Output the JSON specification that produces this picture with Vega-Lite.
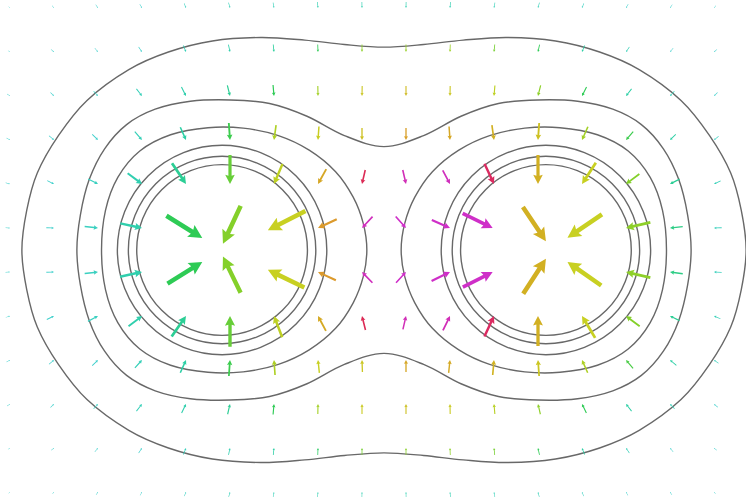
{
  "$schema": "https://vega.github.io/schema/vega-lite/v6.json",
  "width": 746,
  "height": 497,
  "autosize": {"type": "none"},
  "padding": 0,
  "background": "white",
  "config": {"view": {"stroke": null}},
  "datasets": {
    "rings": [
      {"x": -3.68, "y": 0, "d": 3.88},
      {"x": -3.68, "y": 0, "d": 4.26},
      {"x": -3.68, "y": 0, "d": 4.76},
      {"x": 3.68, "y": 0, "d": 3.88},
      {"x": 3.68, "y": 0, "d": 4.26},
      {"x": 3.68, "y": 0, "d": 4.76}
    ],
    "contours": [
      {"level": "outer", "k": 0, "x": -8.23, "y": 0},
      {"level": "outer", "k": 1, "x": -8.12, "y": 0.9},
      {"level": "outer", "k": 2, "x": -7.88, "y": 1.75},
      {"level": "outer", "k": 3, "x": -7.4, "y": 2.6},
      {"level": "outer", "k": 4, "x": -6.75, "y": 3.4},
      {"level": "outer", "k": 5, "x": -5.8, "y": 4.1},
      {"level": "outer", "k": 6, "x": -4.9, "y": 4.5},
      {"level": "outer", "k": 7, "x": -3.9, "y": 4.75},
      {"level": "outer", "k": 8, "x": -2.8, "y": 4.83},
      {"level": "outer", "k": 9, "x": -1.8, "y": 4.77},
      {"level": "outer", "k": 10, "x": -0.9, "y": 4.67},
      {"level": "outer", "k": 11, "x": 0, "y": 4.61},
      {"level": "outer", "k": 12, "x": 0.9, "y": 4.67},
      {"level": "outer", "k": 13, "x": 1.8, "y": 4.77},
      {"level": "outer", "k": 14, "x": 2.8, "y": 4.83},
      {"level": "outer", "k": 15, "x": 3.9, "y": 4.75},
      {"level": "outer", "k": 16, "x": 4.9, "y": 4.5},
      {"level": "outer", "k": 17, "x": 5.8, "y": 4.1},
      {"level": "outer", "k": 18, "x": 6.75, "y": 3.4},
      {"level": "outer", "k": 19, "x": 7.4, "y": 2.6},
      {"level": "outer", "k": 20, "x": 7.88, "y": 1.75},
      {"level": "outer", "k": 21, "x": 8.12, "y": 0.9},
      {"level": "outer", "k": 22, "x": 8.23, "y": 0},
      {"level": "outer", "k": 23, "x": 8.12, "y": -0.9},
      {"level": "outer", "k": 24, "x": 7.88, "y": -1.75},
      {"level": "outer", "k": 25, "x": 7.4, "y": -2.6},
      {"level": "outer", "k": 26, "x": 6.75, "y": -3.4},
      {"level": "outer", "k": 27, "x": 5.8, "y": -4.1},
      {"level": "outer", "k": 28, "x": 4.9, "y": -4.5},
      {"level": "outer", "k": 29, "x": 3.9, "y": -4.75},
      {"level": "outer", "k": 30, "x": 2.8, "y": -4.83},
      {"level": "outer", "k": 31, "x": 1.8, "y": -4.77},
      {"level": "outer", "k": 32, "x": 0.9, "y": -4.67},
      {"level": "outer", "k": 33, "x": 0, "y": -4.61},
      {"level": "outer", "k": 34, "x": -0.9, "y": -4.67},
      {"level": "outer", "k": 35, "x": -1.8, "y": -4.77},
      {"level": "outer", "k": 36, "x": -2.8, "y": -4.83},
      {"level": "outer", "k": 37, "x": -3.9, "y": -4.75},
      {"level": "outer", "k": 38, "x": -4.9, "y": -4.5},
      {"level": "outer", "k": 39, "x": -5.8, "y": -4.1},
      {"level": "outer", "k": 40, "x": -6.75, "y": -3.4},
      {"level": "outer", "k": 41, "x": -7.4, "y": -2.6},
      {"level": "outer", "k": 42, "x": -7.88, "y": -1.75},
      {"level": "outer", "k": 43, "x": -8.12, "y": -0.9},

      {"level": "peanut", "k": 0, "x": -6.98, "y": 0},
      {"level": "peanut", "k": 1, "x": -6.9, "y": 0.8},
      {"level": "peanut", "k": 2, "x": -6.7, "y": 1.6},
      {"level": "peanut", "k": 3, "x": -6.35, "y": 2.3},
      {"level": "peanut", "k": 4, "x": -5.85, "y": 2.85},
      {"level": "peanut", "k": 5, "x": -5.2, "y": 3.2},
      {"level": "peanut", "k": 6, "x": -4.4, "y": 3.38},
      {"level": "peanut", "k": 7, "x": -3.5, "y": 3.41},
      {"level": "peanut", "k": 8, "x": -2.6, "y": 3.33},
      {"level": "peanut", "k": 9, "x": -1.75, "y": 3.04},
      {"level": "peanut", "k": 10, "x": -0.9, "y": 2.6},
      {"level": "peanut", "k": 11, "x": 0, "y": 2.35},
      {"level": "peanut", "k": 12, "x": 0.9, "y": 2.6},
      {"level": "peanut", "k": 13, "x": 1.75, "y": 3.04},
      {"level": "peanut", "k": 14, "x": 2.6, "y": 3.33},
      {"level": "peanut", "k": 15, "x": 3.5, "y": 3.41},
      {"level": "peanut", "k": 16, "x": 4.4, "y": 3.38},
      {"level": "peanut", "k": 17, "x": 5.2, "y": 3.2},
      {"level": "peanut", "k": 18, "x": 5.85, "y": 2.85},
      {"level": "peanut", "k": 19, "x": 6.35, "y": 2.3},
      {"level": "peanut", "k": 20, "x": 6.7, "y": 1.6},
      {"level": "peanut", "k": 21, "x": 6.9, "y": 0.8},
      {"level": "peanut", "k": 22, "x": 6.98, "y": 0},
      {"level": "peanut", "k": 23, "x": 6.9, "y": -0.8},
      {"level": "peanut", "k": 24, "x": 6.7, "y": -1.6},
      {"level": "peanut", "k": 25, "x": 6.35, "y": -2.3},
      {"level": "peanut", "k": 26, "x": 5.85, "y": -2.85},
      {"level": "peanut", "k": 27, "x": 5.2, "y": -3.2},
      {"level": "peanut", "k": 28, "x": 4.4, "y": -3.38},
      {"level": "peanut", "k": 29, "x": 3.5, "y": -3.41},
      {"level": "peanut", "k": 30, "x": 2.6, "y": -3.33},
      {"level": "peanut", "k": 31, "x": 1.75, "y": -3.04},
      {"level": "peanut", "k": 32, "x": 0.9, "y": -2.6},
      {"level": "peanut", "k": 33, "x": 0, "y": -2.35},
      {"level": "peanut", "k": 34, "x": -0.9, "y": -2.6},
      {"level": "peanut", "k": 35, "x": -1.75, "y": -3.04},
      {"level": "peanut", "k": 36, "x": -2.6, "y": -3.33},
      {"level": "peanut", "k": 37, "x": -3.5, "y": -3.41},
      {"level": "peanut", "k": 38, "x": -4.4, "y": -3.38},
      {"level": "peanut", "k": 39, "x": -5.2, "y": -3.2},
      {"level": "peanut", "k": 40, "x": -5.85, "y": -2.85},
      {"level": "peanut", "k": 41, "x": -6.35, "y": -2.3},
      {"level": "peanut", "k": 42, "x": -6.7, "y": -1.6},
      {"level": "peanut", "k": 43, "x": -6.9, "y": -0.8},

      {"level": "lobeL", "k": 0, "x": -6.42, "y": 0},
      {"level": "lobeL", "k": 1, "x": -6.33, "y": 0.9},
      {"level": "lobeL", "k": 2, "x": -6.05, "y": 1.65},
      {"level": "lobeL", "k": 3, "x": -5.55, "y": 2.25},
      {"level": "lobeL", "k": 4, "x": -4.85, "y": 2.62},
      {"level": "lobeL", "k": 5, "x": -4.0, "y": 2.78},
      {"level": "lobeL", "k": 6, "x": -3.2, "y": 2.77},
      {"level": "lobeL", "k": 7, "x": -2.4, "y": 2.6},
      {"level": "lobeL", "k": 8, "x": -1.7, "y": 2.27},
      {"level": "lobeL", "k": 9, "x": -1.1, "y": 1.78},
      {"level": "lobeL", "k": 10, "x": -0.7, "y": 1.2},
      {"level": "lobeL", "k": 11, "x": -0.47, "y": 0.6},
      {"level": "lobeL", "k": 12, "x": -0.39, "y": 0},
      {"level": "lobeL", "k": 13, "x": -0.47, "y": -0.6},
      {"level": "lobeL", "k": 14, "x": -0.7, "y": -1.2},
      {"level": "lobeL", "k": 15, "x": -1.1, "y": -1.78},
      {"level": "lobeL", "k": 16, "x": -1.7, "y": -2.27},
      {"level": "lobeL", "k": 17, "x": -2.4, "y": -2.6},
      {"level": "lobeL", "k": 18, "x": -3.2, "y": -2.77},
      {"level": "lobeL", "k": 19, "x": -4.0, "y": -2.78},
      {"level": "lobeL", "k": 20, "x": -4.85, "y": -2.62},
      {"level": "lobeL", "k": 21, "x": -5.55, "y": -2.25},
      {"level": "lobeL", "k": 22, "x": -6.05, "y": -1.65},
      {"level": "lobeL", "k": 23, "x": -6.33, "y": -0.9},

      {"level": "lobeR", "k": 0, "x": 6.42, "y": 0},
      {"level": "lobeR", "k": 1, "x": 6.33, "y": 0.9},
      {"level": "lobeR", "k": 2, "x": 6.05, "y": 1.65},
      {"level": "lobeR", "k": 3, "x": 5.55, "y": 2.25},
      {"level": "lobeR", "k": 4, "x": 4.85, "y": 2.62},
      {"level": "lobeR", "k": 5, "x": 4.0, "y": 2.78},
      {"level": "lobeR", "k": 6, "x": 3.2, "y": 2.77},
      {"level": "lobeR", "k": 7, "x": 2.4, "y": 2.6},
      {"level": "lobeR", "k": 8, "x": 1.7, "y": 2.27},
      {"level": "lobeR", "k": 9, "x": 1.1, "y": 1.78},
      {"level": "lobeR", "k": 10, "x": 0.7, "y": 1.2},
      {"level": "lobeR", "k": 11, "x": 0.47, "y": 0.6},
      {"level": "lobeR", "k": 12, "x": 0.39, "y": 0},
      {"level": "lobeR", "k": 13, "x": 0.47, "y": -0.6},
      {"level": "lobeR", "k": 14, "x": 0.7, "y": -1.2},
      {"level": "lobeR", "k": 15, "x": 1.1, "y": -1.78},
      {"level": "lobeR", "k": 16, "x": 1.7, "y": -2.27},
      {"level": "lobeR", "k": 17, "x": 2.4, "y": -2.6},
      {"level": "lobeR", "k": 18, "x": 3.2, "y": -2.77},
      {"level": "lobeR", "k": 19, "x": 4.0, "y": -2.78},
      {"level": "lobeR", "k": 20, "x": 4.85, "y": -2.62},
      {"level": "lobeR", "k": 21, "x": 5.55, "y": -2.25},
      {"level": "lobeR", "k": 22, "x": 6.05, "y": -1.65},
      {"level": "lobeR", "k": 23, "x": 6.33, "y": -0.9}
    ],
    "arrows": [
      {"x": -8.5, "y": 5.5, "b": 135, "m": 0.057, "c": 1},
      {"x": -7.5, "y": 5.5, "b": 140, "m": 0.068, "c": 1},
      {"x": -6.5, "y": 5.5, "b": 145, "m": 0.091, "c": 1},
      {"x": -5.5, "y": 5.5, "b": 150, "m": 0.102, "c": 1},
      {"x": -4.5, "y": 5.5, "b": 158, "m": 0.114, "c": 0.97},
      {"x": -3.5, "y": 5.5, "b": 165, "m": 0.125, "c": 0.95},
      {"x": -2.5, "y": 5.5, "b": 170, "m": 0.125, "c": 0.95},
      {"x": -1.5, "y": 5.5, "b": 175, "m": 0.136, "c": 0.93},
      {"x": -0.5, "y": 5.5, "b": 179, "m": 0.136, "c": 0.93},
      {"x": 0.5, "y": 5.5, "b": 181, "m": 0.136, "c": 0.93},
      {"x": 1.5, "y": 5.5, "b": 185, "m": 0.136, "c": 0.93},
      {"x": 2.5, "y": 5.5, "b": 190, "m": 0.125, "c": 0.95},
      {"x": 3.5, "y": 5.5, "b": 195, "m": 0.125, "c": 0.95},
      {"x": 4.5, "y": 5.5, "b": 202, "m": 0.114, "c": 0.97},
      {"x": 5.5, "y": 5.5, "b": 210, "m": 0.102, "c": 1},
      {"x": 6.5, "y": 5.5, "b": 215, "m": 0.091, "c": 1},
      {"x": 7.5, "y": 5.5, "b": 220, "m": 0.068, "c": 1},

      {"x": -8.5, "y": 4.5, "b": 125, "m": 0.057, "c": 1},
      {"x": -7.5, "y": 4.5, "b": 130, "m": 0.091, "c": 1},
      {"x": -6.5, "y": 4.5, "b": 140, "m": 0.114, "c": 1},
      {"x": -5.5, "y": 4.5, "b": 146, "m": 0.136, "c": 1},
      {"x": -4.5, "y": 4.5, "b": 158, "m": 0.159, "c": 0.95},
      {"x": -3.5, "y": 4.5, "b": 168, "m": 0.17, "c": 0.92},
      {"x": -2.5, "y": 4.5, "b": 174, "m": 0.17, "c": 0.89},
      {"x": -1.5, "y": 4.5, "b": 178, "m": 0.17, "c": 0.8},
      {"x": -0.5, "y": 4.5, "b": 180, "m": 0.17, "c": 0.66},
      {"x": 0.5, "y": 4.5, "b": 180, "m": 0.17, "c": 0.64},
      {"x": 1.5, "y": 4.5, "b": 182, "m": 0.17, "c": 0.63},
      {"x": 2.5, "y": 4.5, "b": 186, "m": 0.17, "c": 0.7},
      {"x": 3.5, "y": 4.5, "b": 192, "m": 0.17, "c": 0.8},
      {"x": 4.5, "y": 4.5, "b": 202, "m": 0.159, "c": 0.9},
      {"x": 5.5, "y": 4.5, "b": 214, "m": 0.136, "c": 0.95},
      {"x": 6.5, "y": 4.5, "b": 220, "m": 0.114, "c": 1},
      {"x": 7.5, "y": 4.5, "b": 230, "m": 0.091, "c": 1},

      {"x": -8.5, "y": 3.5, "b": 125, "m": 0.08, "c": 1},
      {"x": -7.5, "y": 3.5, "b": 135, "m": 0.114, "c": 1},
      {"x": -6.5, "y": 3.5, "b": 138, "m": 0.148, "c": 0.98},
      {"x": -5.5, "y": 3.5, "b": 142, "m": 0.205, "c": 0.95},
      {"x": -4.5, "y": 3.5, "b": 153, "m": 0.227, "c": 0.92},
      {"x": -3.5, "y": 3.5, "b": 166, "m": 0.25, "c": 0.88},
      {"x": -2.5, "y": 3.5, "b": 175, "m": 0.25, "c": 0.8},
      {"x": -1.5, "y": 3.5, "b": 179, "m": 0.227, "c": 0.62},
      {"x": -0.5, "y": 3.5, "b": 181, "m": 0.227, "c": 0.52},
      {"x": 0.5, "y": 3.5, "b": 180, "m": 0.227, "c": 0.48},
      {"x": 1.5, "y": 3.5, "b": 181, "m": 0.227, "c": 0.52},
      {"x": 2.5, "y": 3.5, "b": 185, "m": 0.239, "c": 0.57},
      {"x": 3.5, "y": 3.5, "b": 194, "m": 0.25, "c": 0.66},
      {"x": 4.5, "y": 3.5, "b": 207, "m": 0.227, "c": 0.8},
      {"x": 5.5, "y": 3.5, "b": 218, "m": 0.205, "c": 0.9},
      {"x": 6.5, "y": 3.5, "b": 222, "m": 0.148, "c": 0.95},
      {"x": 7.5, "y": 3.5, "b": 225, "m": 0.114, "c": 1},

      {"x": -8.5, "y": 2.5, "b": 120, "m": 0.091, "c": 1},
      {"x": -7.5, "y": 2.5, "b": 130, "m": 0.148, "c": 1},
      {"x": -6.5, "y": 2.5, "b": 134, "m": 0.182, "c": 1},
      {"x": -5.5, "y": 2.5, "b": 139, "m": 0.25, "c": 0.95},
      {"x": -4.5, "y": 2.5, "b": 156, "m": 0.318, "c": 0.9},
      {"x": -3.5, "y": 2.5, "b": 176, "m": 0.386, "c": 0.78},
      {"x": -2.5, "y": 2.5, "b": 188, "m": 0.341, "c": 0.6},
      {"x": -1.5, "y": 2.5, "b": 184, "m": 0.307, "c": 0.54},
      {"x": -0.5, "y": 2.5, "b": 180, "m": 0.273, "c": 0.5},
      {"x": 0.5, "y": 2.5, "b": 180, "m": 0.273, "c": 0.4},
      {"x": 1.5, "y": 2.5, "b": 176, "m": 0.307, "c": 0.42},
      {"x": 2.5, "y": 2.5, "b": 172, "m": 0.341, "c": 0.45},
      {"x": 3.5, "y": 2.5, "b": 184, "m": 0.386, "c": 0.5},
      {"x": 4.5, "y": 2.5, "b": 204, "m": 0.33, "c": 0.62},
      {"x": 5.5, "y": 2.5, "b": 221, "m": 0.25, "c": 0.78},
      {"x": 6.5, "y": 2.5, "b": 226, "m": 0.182, "c": 0.9},
      {"x": 7.5, "y": 2.5, "b": 230, "m": 0.136, "c": 0.97},

      {"x": -8.5, "y": 1.5, "b": 105, "m": 0.102, "c": 1},
      {"x": -7.5, "y": 1.5, "b": 116, "m": 0.17, "c": 1},
      {"x": -6.5, "y": 1.5, "b": 117, "m": 0.25, "c": 0.97},
      {"x": -5.5, "y": 1.5, "b": 127, "m": 0.409, "c": 0.93},
      {"x": -4.5, "y": 1.5, "b": 146, "m": 0.568, "c": 0.88},
      {"x": -3.5, "y": 1.5, "b": 180, "m": 0.659, "c": 0.72},
      {"x": -2.5, "y": 1.5, "b": 203, "m": 0.493, "c": 0.57},
      {"x": -1.5, "y": 1.5, "b": 209, "m": 0.386, "c": 0.42},
      {"x": -0.5, "y": 1.5, "b": 193, "m": 0.327, "c": 0.2},
      {"x": 0.5, "y": 1.5, "b": 167, "m": 0.327, "c": 0.03},
      {"x": 1.5, "y": 1.5, "b": 152, "m": 0.352, "c": 0.02},
      {"x": 2.5, "y": 1.5, "b": 155, "m": 0.509, "c": 0.18},
      {"x": 3.5, "y": 1.5, "b": 180, "m": 0.659, "c": 0.45},
      {"x": 4.5, "y": 1.5, "b": 213, "m": 0.577, "c": 0.55},
      {"x": 5.5, "y": 1.5, "b": 233, "m": 0.38, "c": 0.68},
      {"x": 6.5, "y": 1.5, "b": 243, "m": 0.245, "c": 0.88},
      {"x": 7.5, "y": 1.5, "b": 245, "m": 0.166, "c": 0.95},

      {"x": -8.5, "y": 0.5, "b": 92, "m": 0.1, "c": 1},
      {"x": -7.5, "y": 0.5, "b": 92, "m": 0.175, "c": 1},
      {"x": -6.5, "y": 0.5, "b": 96, "m": 0.305, "c": 0.97},
      {"x": -5.5, "y": 0.5, "b": 102, "m": 0.505, "c": 0.92},
      {"x": -4.13, "y": 0.27, "b": 122, "m": 0.961, "c": 0.8},
      {"x": -3.66, "y": 0.14, "b": 205, "m": 0.952, "c": 0.68},
      {"x": -2.64, "y": 0.45, "b": 243, "m": 0.959, "c": 0.55},
      {"x": -1.5, "y": 0.5, "b": 245, "m": 0.47, "c": 0.38},
      {"x": -0.5, "y": 0.5, "b": 223, "m": 0.352, "c": 0.02},
      {"x": 0.5, "y": 0.5, "b": 138, "m": 0.35, "c": 0},
      {"x": 1.5, "y": 0.5, "b": 114, "m": 0.452, "c": 0},
      {"x": 2.47, "y": 0.5, "b": 116, "m": 0.759, "c": 0},
      {"x": 3.68, "y": 0.2, "b": 146, "m": 0.936, "c": 0.45},
      {"x": 4.17, "y": 0.28, "b": 236, "m": 0.945, "c": 0.55},
      {"x": 5.5, "y": 0.5, "b": 257, "m": 0.568, "c": 0.66},
      {"x": 6.5, "y": 0.5, "b": 264, "m": 0.291, "c": 0.86},
      {"x": 7.5, "y": 0.5, "b": 268, "m": 0.175, "c": 0.96},

      {"x": -8.5, "y": -0.5, "b": 88, "m": 0.102, "c": 1},
      {"x": -7.5, "y": -0.5, "b": 88, "m": 0.175, "c": 1},
      {"x": -6.5, "y": -0.5, "b": 84, "m": 0.305, "c": 0.97},
      {"x": -5.5, "y": -0.5, "b": 78, "m": 0.511, "c": 0.92},
      {"x": -4.13, "y": -0.27, "b": 58, "m": 0.932, "c": 0.8},
      {"x": -3.66, "y": -0.15, "b": 334, "m": 0.914, "c": 0.68},
      {"x": -2.64, "y": -0.45, "b": 296, "m": 0.923, "c": 0.55},
      {"x": -1.5, "y": -0.5, "b": 295, "m": 0.448, "c": 0.38},
      {"x": -0.5, "y": -0.5, "b": 316, "m": 0.341, "c": 0.02},
      {"x": 0.5, "y": -0.5, "b": 43, "m": 0.332, "c": 0},
      {"x": 1.5, "y": -0.5, "b": 64, "m": 0.466, "c": 0},
      {"x": 2.47, "y": -0.5, "b": 63, "m": 0.761, "c": 0},
      {"x": 3.68, "y": -0.2, "b": 33, "m": 0.948, "c": 0.45},
      {"x": 4.17, "y": -0.27, "b": 305, "m": 0.936, "c": 0.55},
      {"x": 5.5, "y": -0.5, "b": 283, "m": 0.568, "c": 0.66},
      {"x": 6.5, "y": -0.5, "b": 278, "m": 0.293, "c": 0.86},
      {"x": 7.5, "y": -0.5, "b": 273, "m": 0.175, "c": 0.96},

      {"x": -8.5, "y": -1.5, "b": 72, "m": 0.102, "c": 1},
      {"x": -7.5, "y": -1.5, "b": 64, "m": 0.182, "c": 1},
      {"x": -6.5, "y": -1.5, "b": 62, "m": 0.259, "c": 0.97},
      {"x": -5.5, "y": -1.5, "b": 53, "m": 0.384, "c": 0.92},
      {"x": -4.5, "y": -1.5, "b": 35, "m": 0.568, "c": 0.88},
      {"x": -3.5, "y": -1.5, "b": 0, "m": 0.698, "c": 0.72},
      {"x": -2.5, "y": -1.5, "b": 339, "m": 0.518, "c": 0.57},
      {"x": -1.5, "y": -1.5, "b": 332, "m": 0.384, "c": 0.43},
      {"x": -0.5, "y": -1.5, "b": 346, "m": 0.327, "c": 0.2},
      {"x": 0.5, "y": -1.5, "b": 13, "m": 0.311, "c": 0.03},
      {"x": 1.5, "y": -1.5, "b": 26, "m": 0.366, "c": 0.03},
      {"x": 2.5, "y": -1.5, "b": 25, "m": 0.514, "c": 0.18},
      {"x": 3.5, "y": -1.5, "b": 0, "m": 0.682, "c": 0.45},
      {"x": 4.5, "y": -1.5, "b": 329, "m": 0.58, "c": 0.55},
      {"x": 5.5, "y": -1.5, "b": 307, "m": 0.389, "c": 0.68},
      {"x": 6.5, "y": -1.5, "b": 296, "m": 0.239, "c": 0.88},
      {"x": 7.5, "y": -1.5, "b": 293, "m": 0.159, "c": 0.95},

      {"x": -8.5, "y": -2.5, "b": 60, "m": 0.091, "c": 1},
      {"x": -7.5, "y": -2.5, "b": 50, "m": 0.148, "c": 1},
      {"x": -6.5, "y": -2.5, "b": 46, "m": 0.182, "c": 1},
      {"x": -5.5, "y": -2.5, "b": 42, "m": 0.241, "c": 0.95},
      {"x": -4.5, "y": -2.5, "b": 24, "m": 0.318, "c": 0.9},
      {"x": -3.5, "y": -2.5, "b": 4, "m": 0.364, "c": 0.78},
      {"x": -2.5, "y": -2.5, "b": 356, "m": 0.341, "c": 0.6},
      {"x": -1.5, "y": -2.5, "b": 354, "m": 0.295, "c": 0.55},
      {"x": -0.5, "y": -2.5, "b": 358, "m": 0.273, "c": 0.52},
      {"x": 0.5, "y": -2.5, "b": 0, "m": 0.273, "c": 0.42},
      {"x": 1.5, "y": -2.5, "b": 6, "m": 0.295, "c": 0.43},
      {"x": 2.5, "y": -2.5, "b": 5, "m": 0.341, "c": 0.46},
      {"x": 3.5, "y": -2.5, "b": 356, "m": 0.364, "c": 0.52},
      {"x": 4.5, "y": -2.5, "b": 336, "m": 0.318, "c": 0.6},
      {"x": 5.5, "y": -2.5, "b": 320, "m": 0.25, "c": 0.76},
      {"x": 6.5, "y": -2.5, "b": 310, "m": 0.189, "c": 0.9},
      {"x": 7.5, "y": -2.5, "b": 305, "m": 0.125, "c": 0.96},

      {"x": -8.5, "y": -3.5, "b": 55, "m": 0.08, "c": 1},
      {"x": -7.5, "y": -3.5, "b": 45, "m": 0.114, "c": 1},
      {"x": -6.5, "y": -3.5, "b": 42, "m": 0.148, "c": 0.98},
      {"x": -5.5, "y": -3.5, "b": 38, "m": 0.205, "c": 0.95},
      {"x": -4.5, "y": -3.5, "b": 26, "m": 0.227, "c": 0.92},
      {"x": -3.5, "y": -3.5, "b": 13, "m": 0.239, "c": 0.88},
      {"x": -2.5, "y": -3.5, "b": 5, "m": 0.239, "c": 0.8},
      {"x": -1.5, "y": -3.5, "b": 1, "m": 0.227, "c": 0.62},
      {"x": -0.5, "y": -3.5, "b": 0, "m": 0.227, "c": 0.53},
      {"x": 0.5, "y": -3.5, "b": 0, "m": 0.227, "c": 0.5},
      {"x": 1.5, "y": -3.5, "b": 359, "m": 0.227, "c": 0.53},
      {"x": 2.5, "y": -3.5, "b": 355, "m": 0.227, "c": 0.58},
      {"x": 3.5, "y": -3.5, "b": 347, "m": 0.239, "c": 0.66},
      {"x": 4.5, "y": -3.5, "b": 334, "m": 0.227, "c": 0.8},
      {"x": 5.5, "y": -3.5, "b": 322, "m": 0.205, "c": 0.9},
      {"x": 6.5, "y": -3.5, "b": 316, "m": 0.148, "c": 0.95},
      {"x": 7.5, "y": -3.5, "b": 310, "m": 0.114, "c": 1},

      {"x": -8.5, "y": -4.5, "b": 55, "m": 0.057, "c": 1},
      {"x": -7.5, "y": -4.5, "b": 50, "m": 0.08, "c": 1},
      {"x": -6.5, "y": -4.5, "b": 40, "m": 0.114, "c": 1},
      {"x": -5.5, "y": -4.5, "b": 34, "m": 0.136, "c": 1},
      {"x": -4.5, "y": -4.5, "b": 22, "m": 0.159, "c": 0.96},
      {"x": -3.5, "y": -4.5, "b": 12, "m": 0.159, "c": 0.93},
      {"x": -2.5, "y": -4.5, "b": 6, "m": 0.159, "c": 0.9},
      {"x": -1.5, "y": -4.5, "b": 2, "m": 0.159, "c": 0.82},
      {"x": -0.5, "y": -4.5, "b": 0, "m": 0.159, "c": 0.7},
      {"x": 0.5, "y": -4.5, "b": 0, "m": 0.159, "c": 0.67},
      {"x": 1.5, "y": -4.5, "b": 358, "m": 0.159, "c": 0.66},
      {"x": 2.5, "y": -4.5, "b": 354, "m": 0.159, "c": 0.7},
      {"x": 3.5, "y": -4.5, "b": 348, "m": 0.159, "c": 0.8},
      {"x": 4.5, "y": -4.5, "b": 338, "m": 0.159, "c": 0.9},
      {"x": 5.5, "y": -4.5, "b": 326, "m": 0.136, "c": 0.95},
      {"x": 6.5, "y": -4.5, "b": 320, "m": 0.114, "c": 1},
      {"x": 7.5, "y": -4.5, "b": 310, "m": 0.08, "c": 1},

      {"x": -8.5, "y": -5.5, "b": 45, "m": 0.045, "c": 1},
      {"x": -7.5, "y": -5.5, "b": 40, "m": 0.057, "c": 1},
      {"x": -6.5, "y": -5.5, "b": 35, "m": 0.08, "c": 1},
      {"x": -5.5, "y": -5.5, "b": 30, "m": 0.091, "c": 1},
      {"x": -4.5, "y": -5.5, "b": 22, "m": 0.102, "c": 0.97},
      {"x": -3.5, "y": -5.5, "b": 15, "m": 0.114, "c": 0.95},
      {"x": -2.5, "y": -5.5, "b": 10, "m": 0.114, "c": 0.95},
      {"x": -1.5, "y": -5.5, "b": 5, "m": 0.114, "c": 0.93},
      {"x": -0.5, "y": -5.5, "b": 1, "m": 0.114, "c": 0.93},
      {"x": 0.5, "y": -5.5, "b": 359, "m": 0.114, "c": 0.93},
      {"x": 1.5, "y": -5.5, "b": 355, "m": 0.114, "c": 0.93},
      {"x": 2.5, "y": -5.5, "b": 350, "m": 0.114, "c": 0.95},
      {"x": 3.5, "y": -5.5, "b": 345, "m": 0.114, "c": 0.95},
      {"x": 4.5, "y": -5.5, "b": 338, "m": 0.102, "c": 0.97},
      {"x": 5.5, "y": -5.5, "b": 330, "m": 0.091, "c": 1},
      {"x": 6.5, "y": -5.5, "b": 325, "m": 0.08, "c": 1},
      {"x": 7.5, "y": -5.5, "b": 318, "m": 0.057, "c": 1}
    ]
  },
  "layer": [
    {
      "data": {"name": "contours"},
      "mark": {"type": "line", "interpolate": "cardinal-closed", "color": "#686868", "strokeWidth": 1.4},
      "encoding": {
        "x": {"field": "x", "type": "quantitative", "scale": {"domain": [-8.7273, 8.2273], "nice": false, "zero": false}, "axis": null},
        "y": {"field": "y", "type": "quantitative", "scale": {"domain": [-5.6136, 5.6818], "nice": false, "zero": false}, "axis": null},
        "detail": {"field": "level", "type": "nominal"},
        "order": {"field": "k", "type": "quantitative"}
      }
    },
    {
      "data": {"name": "rings"},
      "mark": {"type": "point", "shape": "circle", "filled": false, "color": "#686868", "strokeWidth": 1.4, "opacity": 1},
      "encoding": {
        "x": {"field": "x", "type": "quantitative", "scale": {"domain": [-8.7273, 8.2273], "nice": false, "zero": false}, "axis": null},
        "y": {"field": "y", "type": "quantitative", "scale": {"domain": [-5.6136, 5.6818], "nice": false, "zero": false}, "axis": null},
        "size": {"field": "d", "type": "quantitative", "scale": {"type": "pow", "exponent": 2, "domain": [0, 1], "range": [0, 1936]}, "legend": null}
      }
    },
    {
      "data": {"name": "arrows"},
      "mark": {"type": "point", "shape": "M0,0L0.33,0.64L0.11,0.57L0.11,2L-0.11,2L-0.11,0.57L-0.33,0.64Z", "filled": true, "opacity": 1, "strokeWidth": 0},
      "encoding": {
        "x": {"field": "x", "type": "quantitative", "scale": {"domain": [-8.7273, 8.2273], "nice": false, "zero": false}, "axis": null},
        "y": {"field": "y", "type": "quantitative", "scale": {"domain": [-5.6136, 5.6818], "nice": false, "zero": false}, "axis": null},
        "angle": {"field": "b", "type": "quantitative", "scale": null},
        "size": {"field": "m", "type": "quantitative", "scale": {"type": "pow", "exponent": 2, "domain": [0, 1], "range": [0, 1936]}, "legend": null},
        "color": {
          "field": "c",
          "type": "quantitative",
          "scale": {
            "domain": [0, 0.2, 0.38, 0.45, 0.55, 0.68, 0.8, 0.9, 1],
            "range": ["#cf2fc8", "#dc2a55", "#dc9a2c", "#d2b022", "#c8d022", "#84d02a", "#2ecb55", "#2ccfa5", "#40d0cc"],
            "interpolate": "rgb"
          },
          "legend": null
        }
      }
    }
  ]
}
